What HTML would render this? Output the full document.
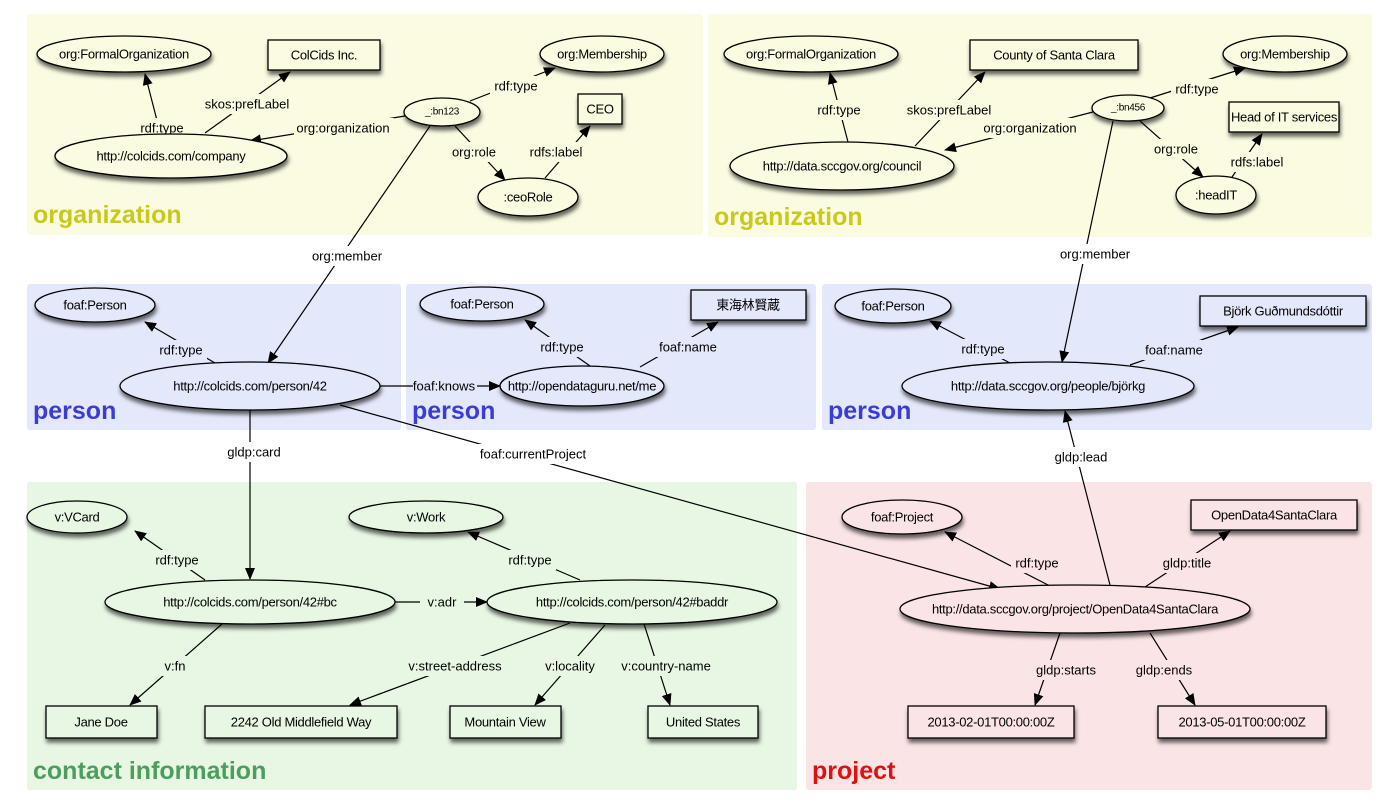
<!DOCTYPE html>
<html><head><meta charset="utf-8"><style>
html,body{margin:0;padding:0;background:#fff;}
svg{display:block;font-family:"Liberation Sans","Noto Sans CJK JP",sans-serif;}
.t{font-size:13px;text-anchor:middle;dominant-baseline:central;fill:#000;}
.nt text{letter-spacing:-0.3px;}
.e{stroke:#000;stroke-width:1.2;fill:none;marker-end:url(#a);}
.n{stroke:#000;stroke-width:1.3;}
.big{font-size:25px;font-weight:bold;}
</style></head><body>
<svg width="1400" height="805" viewBox="0 0 1400 805">
<defs>
<marker id="a" markerWidth="12" markerHeight="10" refX="11" refY="5" orient="auto" markerUnits="userSpaceOnUse"><path d="M0,0 L12,5 L0,10 z" fill="#000"/></marker>
<filter id="s" x="-20%" y="-30%" width="140%" height="180%"><feDropShadow dx="1" dy="4" stdDeviation="2" flood-color="#000" flood-opacity="0.6"/></filter>
</defs>
<rect x="27" y="14" width="676" height="221" rx="3" fill="#fbfbe2"/>
<rect x="708" y="14" width="664" height="223" rx="3" fill="#fbfbe2"/>
<rect x="27" y="284" width="374" height="146" rx="3" fill="#e4e8fb"/>
<rect x="406" y="284" width="410" height="146" rx="3" fill="#e4e8fb"/>
<rect x="822" y="284" width="550" height="146" rx="3" fill="#e4e8fb"/>
<rect x="27" y="482" width="770" height="308" rx="3" fill="#e8f7e4"/>
<rect x="806" y="482" width="566" height="308" rx="3" fill="#fbe4e6"/>
<text x="33" y="223" class="big" fill="#c9c91a">organization</text>
<text x="714" y="225" class="big" fill="#c9c91a">organization</text>
<text x="33" y="419" class="big" fill="#3b3bd6">person</text>
<text x="412" y="419" class="big" fill="#3b3bd6">person</text>
<text x="828" y="419" class="big" fill="#3b3bd6">person</text>
<text x="33" y="779" class="big" fill="#4d9e5e">contact information</text>
<text x="812" y="779" class="big" fill="#e01010">project</text>

<g class="edges">
<line class="e" x1="160" y1="132" x2="145" y2="74"/>
<line class="e" x1="205" y1="133" x2="290" y2="72"/>
<line class="e" x1="405" y1="116" x2="250" y2="141"/>
<line class="e" x1="470" y1="101" x2="555" y2="68"/>
<line class="e" x1="455" y1="126" x2="505" y2="180"/>
<line class="e" x1="545" y1="178" x2="590" y2="126"/>
<line class="e" x1="430" y1="126" x2="268" y2="363"/>
<line class="e" x1="848" y1="142" x2="830" y2="73"/>
<line class="e" x1="915" y1="146" x2="985" y2="72"/>
<line class="e" x1="1093" y1="112" x2="945" y2="150"/>
<line class="e" x1="1150" y1="98" x2="1245" y2="68"/>
<line class="e" x1="1140" y1="121" x2="1203" y2="177"/>
<line class="e" x1="1232" y1="177" x2="1262" y2="134"/>
<line class="e" x1="1113" y1="121" x2="1062" y2="362"/>
<line class="e" x1="215" y1="363" x2="145" y2="322"/>
<line class="e" x1="380" y1="386" x2="500" y2="386"/>
<line class="e" x1="590" y1="366" x2="525" y2="320"/>
<line class="e" x1="640" y1="367" x2="718" y2="322"/>
<line class="e" x1="1010" y1="363" x2="930" y2="321"/>
<line class="e" x1="1130" y1="365" x2="1238" y2="327"/>
<line class="e" x1="250" y1="410" x2="250" y2="579"/>
<line class="e" x1="340" y1="405" x2="1000" y2="589"/>
<line class="e" x1="1110" y1="585" x2="1065" y2="411"/>
<line class="e" x1="205" y1="580" x2="135" y2="531"/>
<line class="e" x1="580" y1="580" x2="468" y2="532"/>
<line class="e" x1="395" y1="602" x2="487" y2="602"/>
<line class="e" x1="222" y1="624" x2="130" y2="705"/>
<line class="e" x1="570" y1="623" x2="350" y2="705"/>
<line class="e" x1="605" y1="625" x2="535" y2="705"/>
<line class="e" x1="644" y1="624" x2="670" y2="705"/>
<line class="e" x1="1050" y1="586" x2="945" y2="532"/>
<line class="e" x1="1145" y1="587" x2="1230" y2="531"/>
<line class="e" x1="1060" y1="633" x2="1035" y2="705"/>
<line class="e" x1="1150" y1="633" x2="1195" y2="705"/>
</g>

<g class="t">
<rect x="136" y="118" width="52" height="20" fill="#fbfbe2"/><text x="162" y="128">rdf:type</text>
<rect x="205" y="94" width="84" height="20" fill="#fbfbe2"/><text x="247" y="104">skos:prefLabel</text>
<rect x="294" y="118" width="100" height="20" fill="#fbfbe2"/><text x="343" y="128">org:organization</text>
<rect x="490" y="76" width="52" height="20" fill="#fbfbe2"/><text x="516" y="86">rdf:type</text>
<rect x="448" y="142" width="52" height="20" fill="#fbfbe2"/><text x="474" y="152">org:role</text>
<rect x="528" y="142" width="56" height="20" fill="#fbfbe2"/><text x="556" y="152">rdfs:label</text>
<rect x="813" y="100" width="52" height="20" fill="#fbfbe2"/><text x="839" y="110">rdf:type</text>
<rect x="906" y="100" width="86" height="20" fill="#fbfbe2"/><text x="949" y="110">skos:prefLabel</text>
<rect x="980" y="118" width="100" height="20" fill="#fbfbe2"/><text x="1030" y="128">org:organization</text>
<rect x="1171" y="79" width="52" height="20" fill="#fbfbe2"/><text x="1197" y="89">rdf:type</text>
<rect x="1150" y="139" width="52" height="20" fill="#fbfbe2"/><text x="1176" y="149">org:role</text>
<rect x="1229" y="152" width="58" height="20" fill="#fbfbe2"/><text x="1257" y="162">rdfs:label</text>
<rect x="305" y="246" width="86" height="20" fill="#fff"/><text x="347" y="256">org:member</text>
<rect x="1053" y="244" width="86" height="20" fill="#fff"/><text x="1095" y="254">org:member</text>
<rect x="155" y="340" width="52" height="20" fill="#e4e8fb"/><text x="181" y="350">rdf:type</text>
<rect x="413" y="376" width="64" height="20" fill="#e4e8fb"/><text x="444" y="386">foaf:knows</text>
<rect x="536" y="337" width="52" height="20" fill="#e4e8fb"/><text x="562" y="347">rdf:type</text>
<rect x="653" y="337" width="70" height="20" fill="#e4e8fb"/><text x="688" y="347">foaf:name</text>
<rect x="957" y="339" width="52" height="20" fill="#e4e8fb"/><text x="983" y="349">rdf:type</text>
<rect x="1139" y="340" width="70" height="20" fill="#e4e8fb"/><text x="1174" y="350">foaf:name</text>
<rect x="222" y="442" width="64" height="20" fill="#fff"/><text x="254" y="452">gldp:card</text>
<rect x="472" y="444" width="122" height="20" fill="#fff"/><text x="533" y="454">foaf:currentProject</text>
<rect x="1052" y="447" width="58" height="20" fill="#fff"/><text x="1081" y="457">gldp:lead</text>
<rect x="151" y="550" width="52" height="20" fill="#e8f7e4"/><text x="177" y="560">rdf:type</text>
<rect x="504" y="550" width="52" height="20" fill="#e8f7e4"/><text x="530" y="560">rdf:type</text>
<rect x="420" y="592" width="44" height="20" fill="#e8f7e4"/><text x="442" y="602">v:adr</text>
<rect x="158" y="656" width="34" height="20" fill="#e8f7e4"/><text x="175" y="666">v:fn</text>
<rect x="402" y="656" width="106" height="20" fill="#e8f7e4"/><text x="455" y="666">v:street-address</text>
<rect x="538" y="656" width="64" height="20" fill="#e8f7e4"/><text x="570" y="666">v:locality</text>
<rect x="614" y="656" width="106" height="20" fill="#e8f7e4"/><text x="666" y="666">v:country-name</text>
<rect x="1011" y="553" width="52" height="20" fill="#fbe4e6"/><text x="1037" y="563">rdf:type</text>
<rect x="1158" y="553" width="58" height="20" fill="#fbe4e6"/><text x="1187" y="563">gldp:title</text>
<rect x="1031" y="660" width="70" height="20" fill="#fbe4e6"/><text x="1066" y="670">gldp:starts</text>
<rect x="1131" y="660" width="66" height="20" fill="#fbe4e6"/><text x="1164" y="670">gldp:ends</text>
</g>

<g filter="url(#s)">
<ellipse class="n" cx="124" cy="54" rx="87" ry="18" fill="#fbfbe2"/>
<rect class="n" x="268" y="40" width="112" height="30" fill="#fbfbe2"/>
<ellipse class="n" cx="602" cy="54" rx="62" ry="18" fill="#fbfbe2"/>
<ellipse class="n" cx="442" cy="112" rx="38" ry="14" fill="#fbfbe2"/>
<rect class="n" x="578" y="94" width="44" height="30" fill="#fbfbe2"/>
<ellipse class="n" cx="171" cy="156" rx="116" ry="22" fill="#fbfbe2"/>
<ellipse class="n" cx="528" cy="197" rx="50" ry="19" fill="#fbfbe2"/>
<ellipse class="n" cx="811" cy="54" rx="87" ry="18" fill="#fbfbe2"/>
<rect class="n" x="970" y="40" width="168" height="30" fill="#fbfbe2"/>
<ellipse class="n" cx="1285" cy="54" rx="62" ry="18" fill="#fbfbe2"/>
<ellipse class="n" cx="1128" cy="108" rx="36" ry="13" fill="#fbfbe2"/>
<rect class="n" x="1229" y="102" width="110" height="30" fill="#fbfbe2"/>
<ellipse class="n" cx="842" cy="166" rx="112" ry="24" fill="#fbfbe2"/>
<ellipse class="n" cx="1216" cy="195" rx="40" ry="19" fill="#fbfbe2"/>
<ellipse class="n" cx="95" cy="305" rx="60" ry="17" fill="#e4e8fb"/>
<ellipse class="n" cx="250" cy="386" rx="130" ry="24" fill="#e4e8fb"/>
<ellipse class="n" cx="482" cy="304" rx="62" ry="17" fill="#e4e8fb"/>
<rect class="n" x="691" y="290" width="115" height="30" fill="#e4e8fb"/>
<ellipse class="n" cx="582" cy="386" rx="82" ry="20" fill="#e4e8fb"/>
<ellipse class="n" cx="893" cy="306" rx="58" ry="17" fill="#e4e8fb"/>
<rect class="n" x="1200" y="296" width="166" height="30" fill="#e4e8fb"/>
<ellipse class="n" cx="1048" cy="386" rx="146" ry="24" fill="#e4e8fb"/>
<ellipse class="n" cx="77" cy="517" rx="50" ry="16" fill="#e8f7e4"/>
<ellipse class="n" cx="426" cy="517" rx="77" ry="16" fill="#e8f7e4"/>
<ellipse class="n" cx="250" cy="602" rx="145" ry="22" fill="#e8f7e4"/>
<ellipse class="n" cx="632" cy="602" rx="145" ry="22" fill="#e8f7e4"/>
<rect class="n" x="46" y="706" width="111" height="32" fill="#e8f7e4"/>
<rect class="n" x="205" y="706" width="192" height="32" fill="#e8f7e4"/>
<rect class="n" x="450" y="706" width="111" height="32" fill="#e8f7e4"/>
<rect class="n" x="648" y="706" width="110" height="32" fill="#e8f7e4"/>
<ellipse class="n" cx="902" cy="517" rx="60" ry="17" fill="#fbe4e6"/>
<rect class="n" x="1191" y="500" width="166" height="30" fill="#fbe4e6"/>
<ellipse class="n" cx="1075" cy="609" rx="175" ry="24" fill="#fbe4e6"/>
<rect class="n" x="908" y="706" width="166" height="32" fill="#fbe4e6"/>
<rect class="n" x="1158" y="706" width="168" height="32" fill="#fbe4e6"/>
</g>
<g class="t nt">
<text x="124" y="54">org:FormalOrganization</text>
<text x="324" y="55">ColCids Inc.</text>
<text x="602" y="54">org:Membership</text>
<text x="442" y="112" style="font-size:10px">_:bn123</text>
<text x="600" y="109">CEO</text>
<text x="171" y="156">http://colcids.com/company</text>
<text x="528" y="197">:ceoRole</text>
<text x="811" y="54">org:FormalOrganization</text>
<text x="1054" y="55">County of Santa Clara</text>
<text x="1285" y="54">org:Membership</text>
<text x="1128" y="108" style="font-size:10px">_:bn456</text>
<text x="1284" y="117">Head of IT services</text>
<text x="842" y="166">http://data.sccgov.org/council</text>
<text x="1216" y="195">:headIT</text>
<text x="95" y="305">foaf:Person</text>
<text x="250" y="386">http://colcids.com/person/42</text>
<text x="482" y="304">foaf:Person</text>
<text x="748" y="305">東海林賢蔵</text>
<text x="582" y="386">http://opendataguru.net/me</text>
<text x="893" y="306">foaf:Person</text>
<text x="1283" y="311">Björk Guðmundsdóttir</text>
<text x="1048" y="386">http://data.sccgov.org/people/björkg</text>
<text x="77" y="517">v:VCard</text>
<text x="426" y="517">v:Work</text>
<text x="250" y="602">http://colcids.com/person/42#bc</text>
<text x="632" y="602">http://colcids.com/person/42#baddr</text>
<text x="101" y="722">Jane Doe</text>
<text x="301" y="722">2242 Old Middlefield Way</text>
<text x="505" y="722">Mountain View</text>
<text x="703" y="722">United States</text>
<text x="902" y="517">foaf:Project</text>
<text x="1274" y="515">OpenData4SantaClara</text>
<text x="1075" y="609">http://data.sccgov.org/project/OpenData4SantaClara</text>
<text x="991" y="722">2013-02-01T00:00:00Z</text>
<text x="1242" y="722">2013-05-01T00:00:00Z</text>
</g>
</svg>
</body></html>
